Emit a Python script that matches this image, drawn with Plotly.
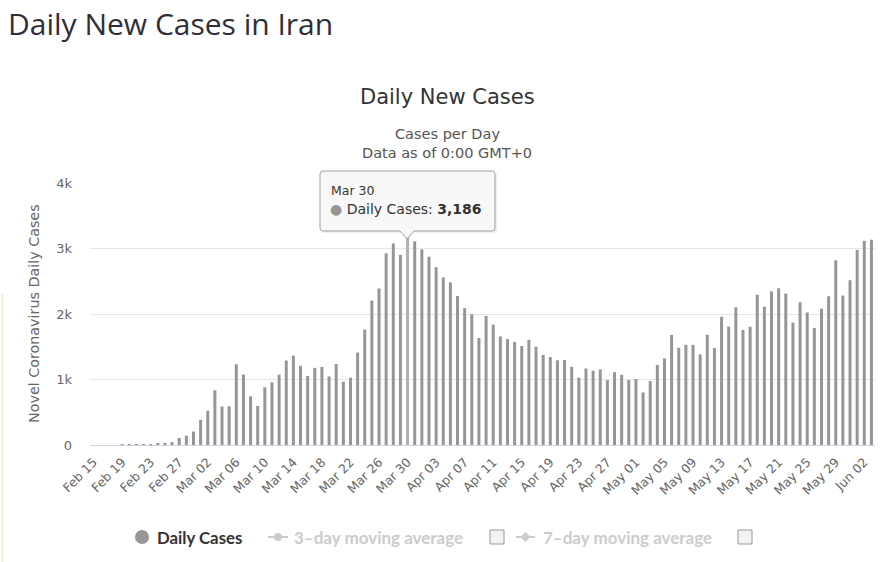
import pandas as pd
import plotly.graph_objects as go

# ---------------- data ----------------
dates = [d.strftime("%b %d") for d in pd.date_range("2020-02-15", "2020-06-03", freq="D")]
feb_vals = [0, 0, 0, 0, 2, 3, 13, 10, 15, 18, 34, 44, 106, 143, 205]
mar_vals = [385, 523, 835, 586, 591, 1234, 1076, 743, 595, 881,
            958, 1075, 1289, 1365, 1209, 1053, 1178, 1192, 1046, 1237,
            966, 1028, 1411, 1762, 2206, 2389, 2926, 3076, 2901, 3186, 3110]
apr_vals = [2987, 2875, 2715, 2560, 2483, 2274, 2089, 1997, 1634, 1972,
            1837, 1657, 1617, 1574, 1512, 1606, 1499, 1374, 1343, 1294,
            1297, 1194, 1030, 1168, 1134, 1153, 991, 1112, 1073, 993]
may_vals = [1006, 802, 976, 1223, 1323, 1680, 1485, 1529, 1529, 1383,
            1683, 1481, 1958, 1808, 2102, 1757, 1806, 2294, 2111, 2346,
            2392, 2311, 1869, 2180, 2023, 1787, 2080, 2271, 2819, 2282, 2516]
jun_vals = [2979, 3117, 3134]
daily_cases = feb_vals + mar_vals + apr_vals + may_vals + jun_vals

tick_labels = dates[::4]
y_tickvals = [0, 1000, 2000, 3000, 4000]
y_ticktext = ["0", "1k", "2k", "3k", "4k"]
hover_date = "Mar 30"

# ---------------- layout helpers ----------------
W, H = 880, 562
L, R, T, B = 90, 5, 183, 117
PW, PH = W - L - R, H - T - B


def px(x):
    return (x - L) / PW


def py(y):
    return (H - B - y) / PH


hi = dates.index(hover_date)
bar_colors = ["#b0b0b0" if i == hi else "#969696" for i in range(len(dates))]

fig = go.Figure()
fig.add_trace(go.Bar(
    x=dates, y=daily_cases, marker=dict(color=bar_colors, line=dict(width=0)),
    hoverinfo="skip", showlegend=False,
))

fig.update_layout(
    width=W, height=H,
    margin=dict(l=L, r=R, t=T, b=B),
    paper_bgcolor="white", plot_bgcolor="white",
    bargap=0.58,
    showlegend=False,
    font=dict(family="DejaVu Sans", color="#666666"),
    xaxis=dict(
        type="category", categoryorder="array", categoryarray=dates,
        range=[-0.5, len(dates) - 0.5],
        tickmode="array", tickvals=tick_labels, ticktext=tick_labels,
        tickangle=-45, tickfont=dict(size=12.5, color="#666666", family="DejaVu Sans"),
        ticklabelstandoff=4,
        showgrid=False, showline=True, linecolor="#ccd6eb", linewidth=1,
        ticks="", zeroline=False, fixedrange=True,
    ),
    yaxis=dict(
        range=[0, 4000], tickmode="array", tickvals=y_tickvals, ticktext=y_ticktext,
        showgrid=True, gridcolor="#e6e6e6", gridwidth=1,
        tickfont=dict(size=13, color="#666666", family="DejaVu Sans"),
        ticklabelstandoff=17, zeroline=False, showline=False, fixedrange=True,
    ),
)

ann = []
# page title
ann.append(dict(text="Daily New Cases in Iran", x=px(6), y=py(23), xref="paper", yref="paper",
                xanchor="left", yanchor="middle", showarrow=False,
                font=dict(family="Open Sans", size=30, color="#2f2f3a")))
# chart title
ann.append(dict(text="Daily New Cases", x=px(447), y=py(97), xref="paper", yref="paper",
                xanchor="center", yanchor="middle", showarrow=False,
                font=dict(family="DejaVu Sans", size=21, color="#333333")))
ann.append(dict(text="Cases per Day", x=px(447), y=py(134), xref="paper", yref="paper",
                xanchor="center", yanchor="middle", showarrow=False,
                font=dict(family="DejaVu Sans", size=14.5, color="#555555")))
ann.append(dict(text="Data as of 0:00 GMT+0", x=px(447), y=py(153), xref="paper", yref="paper",
                xanchor="center", yanchor="middle", showarrow=False,
                font=dict(family="DejaVu Sans", size=14.5, color="#555555")))
# y-axis title
ann.append(dict(text="Novel Coronavirus Daily Cases", x=px(34), y=py(314), xref="paper", yref="paper",
                xanchor="center", yanchor="middle", showarrow=False, textangle=-90,
                font=dict(family="DejaVu Sans", size=14.3, color="#666666")))

shapes = []
# left decorative border
shapes.append(dict(type="line", xref="paper", yref="paper", x0=px(2.5), x1=px(2.5),
                   y0=py(294), y1=py(562), line=dict(color="#efe9cc", width=1.5)))

# tooltip
bx0, bx1, by0, by1 = 320, 495, 171, 231
ax_tip, ay_tip = 407, 239
r = 3
path = (f"M {px(bx0 + r)},{py(by0)} L {px(bx1 - r)},{py(by0)} "
        f"Q {px(bx1)},{py(by0)} {px(bx1)},{py(by0 + r)} "
        f"L {px(bx1)},{py(by1 - r)} Q {px(bx1)},{py(by1)} {px(bx1 - r)},{py(by1)} "
        f"L {px(ax_tip + 7)},{py(by1)} L {px(ax_tip)},{py(ay_tip)} L {px(ax_tip - 7)},{py(by1)} "
        f"L {px(bx0 + r)},{py(by1)} Q {px(bx0)},{py(by1)} {px(bx0)},{py(by1 - r)} "
        f"L {px(bx0)},{py(by0 + r)} Q {px(bx0)},{py(by0)} {px(bx0 + r)},{py(by0)} Z")
shapes.append(dict(type="path", xref="paper", yref="paper",
                   path=(f"M {px(bx0 + 2)},{py(by0 + 2)} L {px(bx1 + 2)},{py(by0 + 2)} "
                         f"L {px(bx1 + 2)},{py(by1 + 2)} L {px(bx0 + 2)},{py(by1 + 2)} Z"),
                   fillcolor="rgba(0,0,0,0.06)", line=dict(width=0)))
shapes.append(dict(type="path", xref="paper", yref="paper", path=path,
                   fillcolor="rgba(248,248,248,0.97)", line=dict(color="#a0a0a0", width=1)))

ann.append(dict(text=hover_date, x=px(329), y=py(190), xref="paper", yref="paper",
                xanchor="left", yanchor="middle", showarrow=False,
                font=dict(family="DejaVu Sans", size=12.5, color="#333333")))
ann.append(dict(text="<span style='color:#969696'>●</span> Daily Cases: <b>"
                + f"{daily_cases[hi]:,}" + "</b>",
                x=px(328), y=py(209), xref="paper", yref="paper",
                xanchor="left", yanchor="middle", showarrow=False,
                font=dict(family="DejaVu Sans", size=14, color="#333333")))

# legend (custom)
ly = 537
shapes.append(dict(type="circle", xref="paper", yref="paper",
                   x0=px(135), x1=px(149), y0=py(ly - 7), y1=py(ly + 7),
                   fillcolor="#969696", line=dict(width=0)))
ann.append(dict(text="<b>Daily Cases</b>", x=px(155), y=py(ly), xref="paper", yref="paper",
                xanchor="left", yanchor="middle", showarrow=False,
                font=dict(family="Lato", size=16.8, color="#333333")))
# 3-day
shapes.append(dict(type="line", xref="paper", yref="paper", x0=px(268), x1=px(288),
                   y0=py(ly), y1=py(ly), line=dict(color="#cccccc", width=2)))
shapes.append(dict(type="circle", xref="paper", yref="paper",
                   x0=px(274), x1=px(282), y0=py(ly - 4), y1=py(ly + 4),
                   fillcolor="#cccccc", line=dict(width=0)))
ann.append(dict(text="<b>3–day moving average</b>", x=px(292), y=py(ly), xref="paper", yref="paper",
                xanchor="left", yanchor="middle", showarrow=False,
                font=dict(family="Lato", size=17, color="#cccccc")))
shapes.append(dict(type="rect", xref="paper", yref="paper", x0=px(490), x1=px(504),
                   y0=py(ly - 7), y1=py(ly + 7), fillcolor="#f2f2f2",
                   line=dict(color="#999999", width=1)))
# 7-day
shapes.append(dict(type="line", xref="paper", yref="paper", x0=px(516), x1=px(535),
                   y0=py(ly), y1=py(ly), line=dict(color="#cccccc", width=2)))
shapes.append(dict(type="path", xref="paper", yref="paper",
                   path=f"M {px(525.5)},{py(ly - 5)} L {px(530.5)},{py(ly)} L {px(525.5)},{py(ly + 5)} L {px(520.5)},{py(ly)} Z",
                   fillcolor="#cccccc", line=dict(width=0)))
ann.append(dict(text="<b>7–day moving average</b>", x=px(541), y=py(ly), xref="paper", yref="paper",
                xanchor="left", yanchor="middle", showarrow=False,
                font=dict(family="Lato", size=17, color="#cccccc")))
shapes.append(dict(type="rect", xref="paper", yref="paper", x0=px(738), x1=px(752),
                   y0=py(ly - 7), y1=py(ly + 7), fillcolor="#f2f2f2",
                   line=dict(color="#999999", width=1)))

fig.update_layout(annotations=ann, shapes=shapes)
fig.write_html("out.html", config={"displayModeBar": False},
               post_script="document.body.style.margin='0';document.body.style.overflow='hidden';")
